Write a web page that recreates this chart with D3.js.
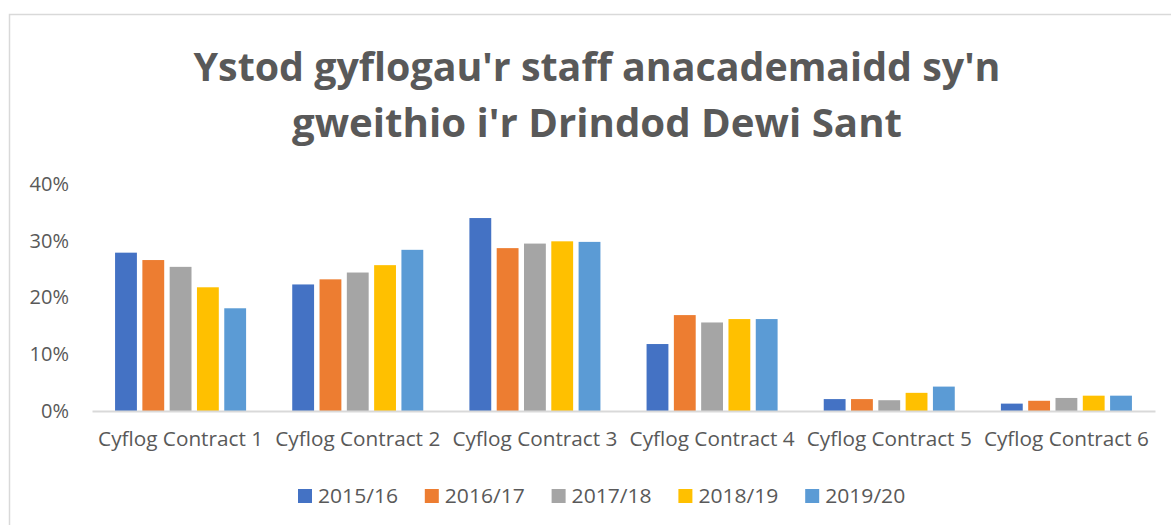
<!DOCTYPE html>
<html>
<head>
<meta charset="utf-8">
<script src="https://cdn.jsdelivr.net/npm/d3@7"></script>
<style>
    body { margin: 0; background: #fff; }
    svg { display: block; font-family: "Open Sans", "Noto Sans", sans-serif; }
</style>
</head>
<body>
<svg id="chart" width="1171" height="525"></svg>
<script>
var categories = ["Cyflog Contract 1", "Cyflog Contract 2", "Cyflog Contract 3",
                  "Cyflog Contract 4", "Cyflog Contract 5", "Cyflog Contract 6"];
var years = ["2015/16", "2016/17", "2017/18", "2018/19", "2019/20"];
var v2015 = [0.279, 0.223, 0.340, 0.118, 0.021, 0.013];
var v2016 = [0.266, 0.232, 0.287, 0.169, 0.021, 0.018];
var v2017 = [0.254, 0.244, 0.295, 0.156, 0.019, 0.023];
var v2018 = [0.218, 0.257, 0.299, 0.162, 0.032, 0.027];
var v2019 = [0.181, 0.284, 0.298, 0.162, 0.043, 0.027];
var yTicks = [0, 0.1, 0.2, 0.3, 0.4];
var titleLines = ["Ystod gyflogau'r staff anacademaidd sy'n", "gweithio i'r Drindod Dewi Sant"];

(function() {
    var series = [v2015, v2016, v2017, v2018, v2019];
    var data = categories.map(function(c, i) {
        var row = {category: c};
        years.forEach(function(y, j) { row[y] = series[j][i]; });
        return row;
    });

    var svg = d3.select("#chart");
    var margin = {top: 184, left: 92, bottom: 114, right: 16};
    var width = 1171, height = 525;

    var color = d3.scaleOrdinal()
        .domain(years)
        .range(["#4472C4", "#ED7D31", "#A5A5A5", "#FFC000", "#5B9BD5"]);

    // chart frame
    svg.append("rect")
        .attr("x", 9.5).attr("y", 14.5)
        .attr("width", width + 10).attr("height", height + 10)
        .attr("fill", "none")
        .attr("stroke", "#d9d9d9")
        .attr("stroke-width", 1.5);

    // title
    var title = svg.append("g").attr("class", "title");
    var titleWidths = [807, 610];
    titleLines.forEach(function(line, i) {
        title.append("text")
            .attr("x", 597)
            .attr("y", 81 + i * 56)
            .attr("text-anchor", "middle")
            .attr("fill", "#595959")
            .attr("font-size", 40)
            .attr("font-weight", "bold")
            .attr("textLength", titleWidths[i])
            .attr("lengthAdjust", "spacingAndGlyphs")
            .text(line);
    });

    var xScale = d3.scaleBand()
        .domain(categories)
        .range([margin.left, width - margin.right]);

    var xInner = d3.scaleBand()
        .domain(years)
        .range([0, xScale.bandwidth()])
        .paddingInner(0.2)
        .paddingOuter(0.845);

    var yScale = d3.scaleLinear()
        .domain([0, 0.4])
        .range([411, margin.top]);

    // y axis labels
    var yAxis = svg.append("g")
        .attr("transform", "translate(" + 69 + ",0)")
        .call(d3.axisLeft(yScale).tickValues(yTicks).tickFormat(d3.format(".0%")).tickSize(0).tickPadding(0));
    yAxis.select(".domain").remove();
    yAxis.selectAll("text")
        .attr("fill", "#595959")
        .attr("font-size", 20)
        .attr("font-family", "'Open Sans', sans-serif");

    // bars
    var group = svg.selectAll("g.cat")
        .data(data)
        .enter().append("g")
        .attr("class", "cat")
        .attr("transform", d => "translate(" + xScale(d.category) + ",0)");

    group.selectAll("rect")
        .data(d => years.map(y => ({key: y, value: d[y]})))
        .enter().append("rect")
        .attr("x", d => xInner(d.key))
        .attr("width", xInner.bandwidth())
        .attr("y", d => yScale(d.value))
        .attr("height", d => yScale(0) - yScale(d.value))
        .attr("fill", d => color(d.key));

    // x axis
    var xAxis = svg.append("g")
        .attr("transform", "translate(0," + yScale(0) + ")")
        .call(d3.axisBottom(xScale).tickSize(0).tickPadding(21).tickSizeOuter(0));
    xAxis.select(".domain")
        .attr("stroke", "#d9d9d9")
        .attr("stroke-width", 2);
    xAxis.selectAll("text")
        .attr("fill", "#595959")
        .attr("font-size", 20)
        .attr("font-family", "'Open Sans', sans-serif")
        .attr("textLength", 165)
        .attr("lengthAdjust", "spacingAndGlyphs");

    // legend
    var legend = svg.selectAll(".legend")
        .data(years)
        .enter().append("g")
        .attr("class", "legend")
        .attr("transform", function(d, i) { return "translate(" + (298 + i * 126.8) + ",489)"; });

    legend.append("rect")
        .attr("width", 14)
        .attr("height", 14)
        .attr("fill", color);

    legend.append("text")
        .attr("x", 20)
        .attr("y", 14)
        .attr("fill", "#595959")
        .attr("font-size", 20)
        .attr("textLength", 80)
        .attr("lengthAdjust", "spacingAndGlyphs")
        .text(d => d);
})();
</script>
</body>
</html>
